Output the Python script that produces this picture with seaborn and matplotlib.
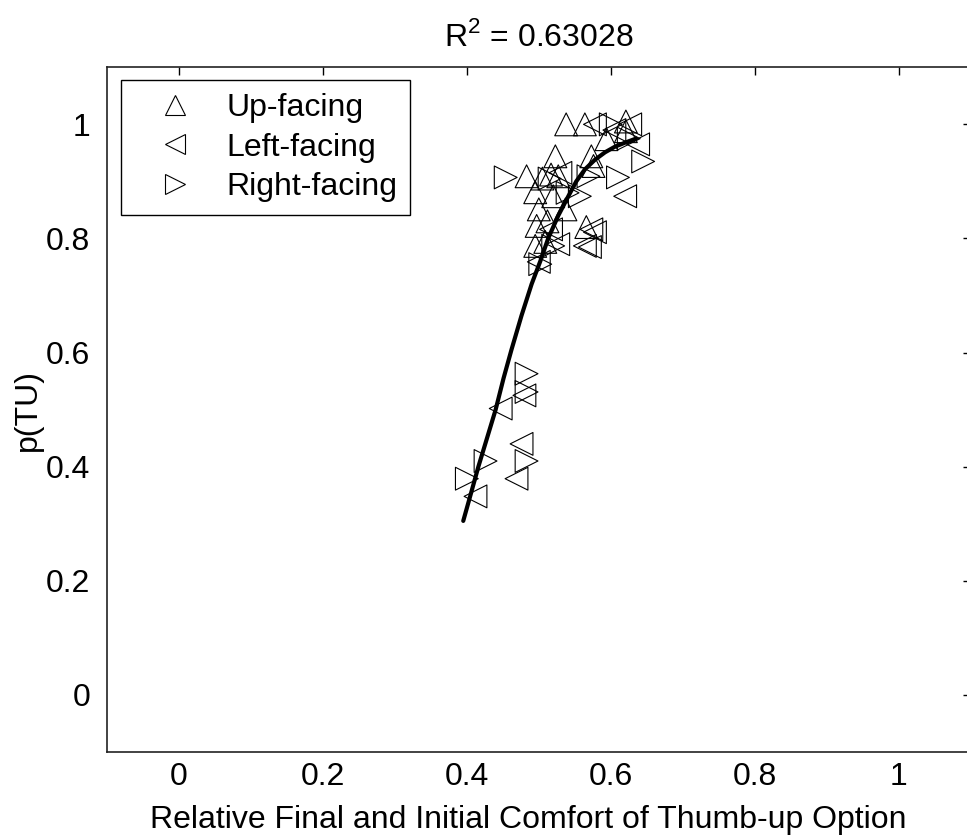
import matplotlib
matplotlib.use("Agg")
import matplotlib.pyplot as plt
import seaborn as sns
import pandas as pd
from matplotlib.lines import Line2D

# ---- data ----
up_x = [0.538, 0.564, 0.621, 0.621, 0.594, 0.483, 0.523, 0.517, 0.527, 0.573, 0.576,
        0.495, 0.520, 0.500, 0.537, 0.497, 0.566, 0.495, 0.509, 0.505, 0.512]
up_y = [1.000, 1.000, 1.005, 0.988, 0.974, 0.909, 0.944, 0.912, 0.909, 0.944, 0.927,
        0.881, 0.874, 0.851, 0.851, 0.822, 0.820, 0.787, 0.794, 0.905, 0.830]

left_x = [0.578, 0.627, 0.638, 0.620, 0.517, 0.573, 0.578, 0.564, 0.571, 0.527, 0.500,
          0.480, 0.447, 0.476, 0.469, 0.412, 0.530, 0.605]
left_y = [1.000, 1.000, 0.965, 0.874, 0.816, 0.816, 0.811, 0.787, 0.785, 0.790, 0.759,
          0.525, 0.502, 0.440, 0.379, 0.348, 0.915, 0.990]

right_x = [0.600, 0.645, 0.610, 0.454, 0.569, 0.557, 0.520, 0.502, 0.483, 0.483, 0.426,
           0.400, 0.483, 0.625, 0.515, 0.540]
right_y = [1.000, 0.935, 0.907, 0.907, 0.909, 0.874, 0.787, 0.755, 0.563, 0.531, 0.410,
           0.379, 0.410, 0.975, 0.905, 0.880]

fit_x = [0.395, 0.405, 0.416, 0.428, 0.440, 0.451, 0.462, 0.476, 0.490, 0.502, 0.513,
         0.527, 0.541, 0.552, 0.564, 0.578, 0.592, 0.606, 0.620, 0.635]
fit_y = [0.305, 0.350, 0.400, 0.450, 0.500, 0.555, 0.605, 0.665, 0.720, 0.760, 0.800,
         0.840, 0.874, 0.900, 0.921, 0.938, 0.951, 0.961, 0.968, 0.975]

labels = ["Up-facing", "Left-facing", "Right-facing"]
markers = ["^", "<", ">"]
title_text = r"R$^2$ = 0.63028"
x_label = "Relative Final and Initial Comfort of Thumb-up Option"
y_label = "p(TU)"
xticks = [0, 0.2, 0.4, 0.6, 0.8, 1]
xtick_labels = ["0", "0.2", "0.4", "0.6", "0.8", "1"]
yticks = [0, 0.2, 0.4, 0.6, 0.8, 1]
ytick_labels = ["0", "0.2", "0.4", "0.6", "0.8", "1"]

sns.set_style("white")
plt.rcParams["font.family"] = ["Liberation Sans", "DejaVu Sans"]
plt.rcParams["mathtext.fontset"] = "custom"
plt.rcParams["mathtext.rm"] = "Liberation Sans"
plt.rcParams["text.color"] = "black"
plt.rcParams["axes.labelcolor"] = "black"

FS = 23

fig = plt.figure(figsize=(9.67, 8.35), dpi=100)
ax = fig.add_axes([0.1107, 0.0994, 0.893, 0.820])

groups = [(up_x, up_y), (left_x, left_y), (right_x, right_y)]
for (gx, gy), lab, mk in zip(groups, labels, markers):
    df = pd.DataFrame({"x": gx, "y": gy})
    sns.scatterplot(data=df, x="x", y="y", ax=ax, marker=mk, s=270,
                    facecolor="none", edgecolor="black", linewidth=0.8,
                    legend=False, zorder=2)

fit_df = pd.DataFrame({"x": fit_x, "y": fit_y})
sns.lineplot(data=fit_df, x="x", y="y", ax=ax, color="black", linewidth=3.0,
             zorder=3, legend=False)

ax.set_xlim(-0.1, 1.1)
ax.set_ylim(-0.1, 1.1)
ax.set_xticks(xticks)
ax.set_xticklabels(xtick_labels)
ax.set_yticks(yticks)
ax.set_yticklabels(ytick_labels)
ax.tick_params(direction="in", length=6, width=1, top=True, right=True,
               labelsize=FS, colors="black")
ax.tick_params(axis="x", pad=7)
ax.tick_params(axis="y", pad=12)
for side in ["left", "bottom", "top", "right"]:
    ax.spines[side].set_color("#222222")
    ax.spines[side].set_linewidth(1.2)

ax.set_xlabel(x_label, fontsize=FS, labelpad=7)
ax.xaxis.set_label_coords(0.488, -0.078)
ax.set_ylabel(y_label, fontsize=FS, labelpad=2)
ax.set_title(title_text, fontsize=FS, pad=15)

handles = [Line2D([], [], linestyle="none", marker=mk, markersize=14,
                  markerfacecolor="none", markeredgecolor="black",
                  markeredgewidth=0.8) for mk in markers]
leg = ax.legend(handles, labels, loc="upper left",
                bbox_to_anchor=(0.016, 0.981), fontsize=FS, fancybox=False,
                framealpha=1, edgecolor="black", borderpad=0.4,
                handletextpad=0.3, labelspacing=0.3, handlelength=2.6,
                borderaxespad=0.0)
leg.get_frame().set_linewidth(1.0)

fig.savefig("out.png", dpi=100)
